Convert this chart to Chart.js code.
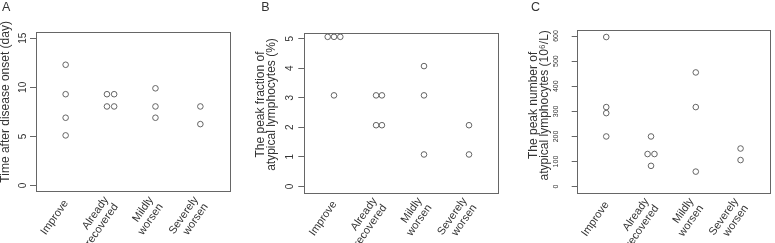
<!DOCTYPE html>
<html>
<head>
<meta charset="utf-8">
<script src="https://cdn.jsdelivr.net/npm/chart.js@4.4.1/dist/chart.umd.min.js"></script>
<style>
  html, body { margin: 0; padding: 0; background: #fff; }
  #wrap { position: relative; width: 775px; height: 243px; overflow: hidden; }
  canvas { position: absolute; top: 0; }
</style>
</head>
<body>
<div id="wrap">
  <canvas id="chartA" width="258" height="243" style="left:0px"></canvas>
  <canvas id="chartB" width="265" height="243" style="left:250px"></canvas>
  <canvas id="chartC" width="260" height="243" style="left:515px"></canvas>
</div>
<script>
// Outcome groups (x axis, same for all three panels)
const categories = [['Improve'], ['Already', 'recovered'], ['Mildly', 'worsen'], ['Severely', 'worsen']];

// A - time after disease onset (day)
const onsetDays = [[12.3, 9.3, 6.9, 5.1], [9.3, 9.3, 8.05, 8.05], [9.9, 8.05, 6.9], [8.05, 6.25]];
const onsetJitter = [[0, 0, 0, 0], [-0.08, 0.08, -0.08, 0.08], [0, 0, 0], [0, 0]];
const onsetTicks = [0, 5, 10, 15];

// B - peak fraction of atypical lymphocytes (%)
const fractionPct = [[5.06, 5.06, 5.06, 3.08], [3.08, 3.08, 2.07, 2.07], [4.07, 3.08, 1.08], [2.07, 1.08]];
const fractionJitter = [[-0.14, 0, 0.14, 0], [-0.065, 0.065, -0.065, 0.065], [0, 0, 0], [0, 0]];
const fractionTicks = [0, 1, 2, 3, 4, 5];

// C - peak number of atypical lymphocytes (10^6/L)
const countE6 = [[596, 317, 293, 200], [200, 130, 130, 83], [455, 317, 60], [152, 106]];
const countJitter = [[0, 0, 0, 0], [0, -0.077, 0.077, 0], [0, 0, 0], [0, 0]];
const countTicks = [0, 100, 200, 300, 400, 500, 600];

const FONT = '"Liberation Sans", Arial, sans-serif';
Chart.defaults.font.family = FONT;
Chart.defaults.color = '#333';

// R-like decorations: box round the plot region, panel letter,
// slanted group labels (two-line labels centred on the tick) and the y title
const rPlotPlugin = {
    id: 'rPlot',
    afterDraw(chart, args, opts) {
        const { ctx, chartArea: a } = chart;
        const xScale = chart.scales.x;
        ctx.save();

        ctx.strokeStyle = '#666';
        ctx.lineWidth = 1;
        ctx.strokeRect(Math.round(a.left) + 0.5, Math.round(a.top) + 0.5,
            Math.round(a.right - a.left), Math.round(a.bottom - a.top));

        ctx.fillStyle = '#333';
        ctx.font = '12.5px ' + FONT;
        ctx.textBaseline = 'alphabetic';
        ctx.fillText(opts.letter, opts.letterX, 11);

        // group labels, rotated 55 degrees, right end at the tick
        ctx.font = '11px ' + FONT;
        ctx.textAlign = 'right';
        ctx.textBaseline = 'middle';
        const lh = 12;
        categories.forEach((lines, i) => {
            const px = xScale.getPixelForValue(i + 1);
            ctx.save();
            ctx.translate(px + opts.labelDx, a.bottom + opts.labelDy);
            ctx.rotate(-55 * Math.PI / 180);
            lines.forEach((line, k) => {
                ctx.fillText(line, 0, (k - (lines.length - 1) / 2) * lh);
            });
            ctx.restore();
        });

        // y axis title
        ctx.font = '12px ' + FONT;
        ctx.textAlign = 'center';
        const cy = (a.top + a.bottom) / 2 - opts.titleShift;
        opts.title.forEach((line, k) => {
            ctx.save();
            ctx.translate(opts.titleX + k * opts.titleLH, cy);
            ctx.rotate(-Math.PI / 2);
            ctx.fillText(line, 0, 0);
            ctx.restore();
        });

        ctx.restore();
    }
};

function buildPanel(id, p) {
    const points = [];
    p.values.forEach((group, i) => {
        group.forEach((v, j) => points.push({ x: i + 1 + p.jitter[i][j], y: v }));
    });

    return new Chart(document.getElementById(id), {
        type: 'scatter',
        data: {
            datasets: [{
                data: points,
                pointStyle: 'circle',
                pointRadius: 2.8,
                pointBorderWidth: 0.9,
                pointBorderColor: '#555',
                pointBackgroundColor: 'rgba(0,0,0,0)'
            }]
        },
        plugins: [rPlotPlugin],
        options: {
            responsive: false,
            animation: false,
            events: [],
            layout: { padding: { left: 0, right: p.padRight, top: p.padTop, bottom: 0 } },
            plugins: {
                legend: { display: false },
                tooltip: { enabled: false },
                rPlot: {
                    letter: p.letter, letterX: p.letterX,
                    labelDx: 0.5, labelDy: 10,
                    title: p.title, titleX: p.titleX, titleLH: p.titleLH, titleShift: p.titleShift
                }
            },
            scales: {
                x: {
                    type: 'linear',
                    min: 0.34,
                    max: 4.66,
                    afterBuildTicks: s => { s.ticks = categories.map((c, i) => ({ value: i + 1 })); },
                    afterFit: s => { s.height = p.axisHeight; },
                    grid: { display: false, drawTicks: false },
                    border: { display: false },
                    ticks: { display: false }
                },
                y: {
                    type: 'linear',
                    min: p.yMin,
                    max: p.yMax,
                    afterBuildTicks: s => { s.ticks = p.yTicks.map(v => ({ value: v })); },
                    afterFit: s => { s.width = p.axisWidth; },
                    grid: { display: true, drawOnChartArea: false, tickLength: p.tickLength, color: '#666', lineWidth: 1 },
                    border: { display: false },
                    ticks: {
                        minRotation: 90,
                        maxRotation: 90,
                        crossAlign: 'center',
                        padding: p.tickPad,
                        color: '#333',
                        font: { size: p.tickSize }
                    }
                }
            }
        }
    });
}

buildPanel('chartA', {
    letter: 'A', letterX: 2,
    values: onsetDays, jitter: onsetJitter, yTicks: onsetTicks,
    yMin: -0.6, yMax: 15.6,
    title: ['Time after disease onset (day)'], titleX: 6, titleLH: 0, titleShift: 10,
    axisWidth: 36, axisHeight: 51.7, padRight: 28, padTop: 32.4,
    tickLength: 6, tickPad: 1, tickSize: 10
});

buildPanel('chartB', {
    letter: 'B', letterX: 11.3,
    values: fractionPct, jitter: fractionJitter, yTicks: fractionTicks,
    yMin: -0.2, yMax: 5.2,
    title: ['The peak fraction of', 'atypical lymphocytes (%)'], titleX: 10.5, titleLH: 11.2, titleShift: 8,
    axisWidth: 54.3, axisHeight: 50.7, padRight: 16.3, padTop: 32.7,
    tickLength: 6, tickPad: 5.5, tickSize: 10
});

buildPanel('chartC', {
    letter: 'C', letterX: 16,
    values: countE6, jitter: countJitter, yTicks: countTicks,
    yMin: -24, yMax: 624,
    title: ['The peak number of', 'atypical lymphocytes (10\u2076/L)'], titleX: 18.3, titleLH: 11.6, titleShift: 6,
    axisWidth: 61.7, axisHeight: 50.3, padRight: 1.7, padTop: 30,
    tickLength: 5, tickPad: 9.9, tickSize: 7
});
</script>
</body>
</html>
